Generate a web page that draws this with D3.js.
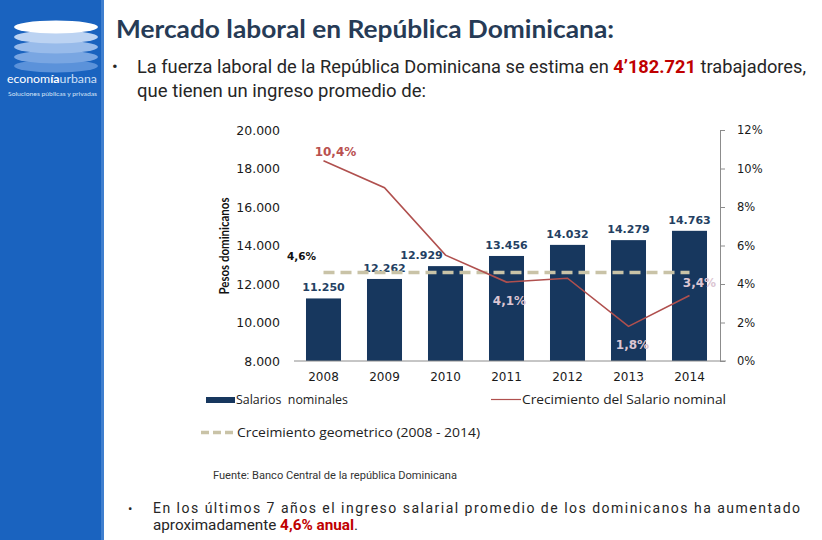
<!DOCTYPE html>
<html><head><meta charset="utf-8">
<script src="https://cdn.jsdelivr.net/npm/d3@7/dist/d3.min.js"></script>
<style>
html,body{margin:0;padding:0;background:#fff;}
svg{display:block;}
</style></head>
<body>
<svg id="c" width="822" height="540"></svg>
<script>
// ---- data ----
const years = ["2008","2009","2010","2011","2012","2013","2014"];
const salaries = [11250, 12262, 12929, 13456, 14032, 14279, 14763];
const growth = [0.104, 0.090, 0.055, 0.041, 0.043, 0.018, 0.034];
const geoGrowth = [0.046, 0.046, 0.046, 0.046, 0.046, 0.046, 0.046];
const leftTicks = [8000, 10000, 12000, 14000, 16000, 18000, 20000];
const rightTicks = [0, 0.02, 0.04, 0.06, 0.08, 0.10, 0.12];
const growthLabelYears = ["2008","2011","2013","2014"];

const svg = d3.select("#c");
const fmtThousands = d3.formatLocale({decimal:",", thousands:".", grouping:[3], currency:["",""]}).format(",.0f");
const fmtPct = d => (d*100).toFixed(1).replace(".", ",") + "%";

// helper: line of segments (separate text elements) fitted to a total width
function segLine(x0, y, width, segs, base, adjust) {
  const els = segs.map(s => svg.append("text").attr("x", x0).attr("y", y)
      .attr("font-family", base.family).attr("font-size", base.size)
      .attr("fill", s.fill || base.fill).attr("font-weight", s.bold ? "bold" : "normal")
      .attr("xml:space","preserve").text(s.t));
  const w = els.map(e => e.node().getComputedTextLength());
  const k = width / d3.sum(w);
  let cx = x0;
  els.forEach((e, i) => {
    e.attr("x", cx).attr("textLength", w[i]*k).attr("lengthAdjust", adjust || "spacingAndGlyphs");
    cx += w[i]*k;
  });
}

// ---- sidebar / logo ----
svg.append("rect").attr("x",0).attr("y",0).attr("width",101).attr("height",540).attr("fill","#1a63bf");
svg.append("rect").attr("x",101).attr("y",0).attr("width",3).attr("height",540).attr("fill","#3f7fcf");
const ell = [
  {cy:66, fill:"#5b92da"},
  {cy:57, fill:"#79a6e2"},
  {cy:47, fill:"#98bbea"},
  {cy:37, fill:"#bcd3f2"},
  {cy:27, fill:"#ffffff"}
];
svg.append("g").selectAll("ellipse").data(ell).join("ellipse")
  .attr("cx",56).attr("cy",d=>d.cy).attr("rx",42).attr("ry",6.5).attr("fill",d=>d.fill);
segLine(7, 83, 90, [{t:"econom"},{t:"ía", bold:true},{t:"urbana", fill:"#cfe0f7"}], {family:"Lato, sans-serif", size:12, fill:"#fff"});
svg.append("text").attr("x",8).attr("y",96).attr("font-family","Lato, sans-serif").attr("font-size",6.5)
  .attr("fill","#d6e4f7").attr("textLength",89).attr("lengthAdjust","spacingAndGlyphs")
  .text("Soluciones públicas y privadas");

// ---- title & text ----
svg.append("text").attr("x",116).attr("y",38).attr("font-family","Lato, sans-serif").attr("font-weight","bold")
  .attr("font-size",25).attr("fill","#263b56").attr("textLength",498).attr("lengthAdjust","spacingAndGlyphs")
  .text("Mercado laboral en República Dominicana:");
const body = {family:"Roboto, sans-serif", size:18, fill:"#262626"};
svg.append("text").attr("x",112).attr("y",72).attr("font-family","Roboto, sans-serif").attr("font-size",17).attr("fill","#262626").text("•");
segLine(137, 73, 669, [
  {t:"La fuerza laboral de la República Dominicana se estima en "},
  {t:"4’182.721", bold:true, fill:"#c00000"},
  {t:" trabajadores,"}], body);
segLine(137, 97, 289, [{t:"que tienen un ingreso promedio de:"}], body);

svg.append("text").attr("x",213).attr("y",479).attr("font-family","Roboto, sans-serif").attr("font-size",11)
  .attr("fill","#333").attr("textLength",244).attr("lengthAdjust","spacingAndGlyphs")
  .text("Fuente: Banco Central de la república Dominicana");

svg.append("text").attr("x",128).attr("y",513).attr("font-family","Roboto, sans-serif").attr("font-size",13).attr("fill","#262626").text("•");
svg.append("text").attr("x",153).attr("y",513).attr("font-family","Roboto, sans-serif").attr("font-size",14)
  .attr("fill","#262626").attr("textLength",647).attr("lengthAdjust","spacing")
  .text("En los últimos 7 años el ingreso salarial promedio de los dominicanos ha aumentado");
segLine(153, 530, 205, [
  {t:"aproximadamente "},
  {t:"4,6% anual", bold:true, fill:"#c00000"},
  {t:"."}], {family:"Roboto, sans-serif", size:14, fill:"#262626"});

// ---- chart ----
const x = d3.scaleBand().domain(years).range([293, 720]).paddingInner(0.426).paddingOuter(0.213);
const yL = d3.scaleLinear().domain([8000, 20000]).range([361, 130]);
const yR = d3.scaleLinear().domain([0, 0.12]).range([361, 130]);
const cx = d => x(d) + x.bandwidth()/2;

const g = svg.append("g");

// bars
g.append("g").selectAll("rect").data(years).join("rect")
  .attr("x", d=>x(d)).attr("width", x.bandwidth())
  .attr("y", (d,i)=>yL(salaries[i])).attr("height",(d,i)=>yL(8000)-yL(salaries[i]))
  .attr("fill","#17375e");

// bottom axis
const ax = g.append("g").attr("transform","translate(0,361)")
  .call(d3.axisBottom(x).tickSize(0).tickPadding(11));
ax.select(".domain").attr("stroke","#8c8c8c").attr("d","M294,0H726");
ax.selectAll("text").attr("font-family","DejaVu Sans, Verdana, sans-serif").attr("font-size",12).attr("fill","#1a1a1a");

// left axis
const al = g.append("g").attr("transform","translate(293,0)")
  .call(d3.axisLeft(yL).tickValues(leftTicks).tickFormat(fmtThousands).tickSize(0).tickPadding(13));
al.select(".domain").remove();
al.selectAll("text").attr("font-family","DejaVu Sans, Verdana, sans-serif").attr("font-size",12.5).attr("fill","#1a1a1a");

// right axis
const ar = g.append("g").attr("transform","translate(720,0)")
  .call(d3.axisRight(yR).tickValues(rightTicks).tickFormat(d=>Math.round(d*100)+"%").tickSizeInner(5).tickSizeOuter(0).tickPadding(12));
ar.select(".domain").attr("stroke","#8c8c8c");
ar.selectAll("line").attr("stroke","#8c8c8c");
ar.selectAll("text").attr("font-family","DejaVu Sans, Verdana, sans-serif").attr("font-size",11.5).attr("fill","#1a1a1a");

// y title
svg.append("text").attr("transform","translate(229,246) rotate(-90)").attr("text-anchor","middle")
  .attr("font-family","Lato, sans-serif").attr("font-weight","bold").attr("font-size",14).attr("fill","#111")
  .attr("textLength",97).attr("lengthAdjust","spacingAndGlyphs").text("Pesos dominicanos");

// bar labels
g.append("g").selectAll("text").data(years).join("text")
  .attr("x", d=>cx(d) + (d==="2010" ? -24 : 0))
  .attr("y", (d,i)=>yL(salaries[i]) - 7)
  .attr("text-anchor","middle").attr("font-family","DejaVu Sans, Verdana, sans-serif")
  .attr("font-weight","bold").attr("font-size",11).attr("fill","#243f62")
  .text((d,i)=>fmtThousands(salaries[i]));

// geometric growth dashed
g.append("path").datum(years)
  .attr("d", d3.line().x(d=>cx(d)).y((d,i)=>yR(geoGrowth[i])))
  .attr("fill","none").attr("stroke","#c9c3a7").attr("stroke-width",3.5).attr("stroke-dasharray","11,6");

// growth line
g.append("path").datum(years)
  .attr("d", d3.line().x(d=>cx(d)).y((d,i)=>yR(growth[i])))
  .attr("fill","none").attr("stroke","#b0504e").attr("stroke-width",1.6);

// growth labels
const gOff = {"2008":[12,-5,"#b9504f"], "2011":[3,23,"#dcc6d3"], "2013":[4,23,"#dcc6d3"], "2014":[10,-9,"#dcc6d3"]};
g.append("g").selectAll("text").data(growthLabelYears).join("text")
  .attr("x", d=>cx(d)+gOff[d][0])
  .attr("y", d=>yR(growth[years.indexOf(d)])+gOff[d][1])
  .attr("text-anchor","middle").attr("font-family","DejaVu Sans, Verdana, sans-serif")
  .attr("font-weight","bold").attr("font-size",12).attr("fill", d=>gOff[d][2])
  .text(d=>fmtPct(growth[years.indexOf(d)]));
g.append("text").attr("x", cx(years[0]) - 22).attr("y", yR(geoGrowth[0]) - 12)
  .attr("text-anchor","middle").attr("font-family","DejaVu Sans, Verdana, sans-serif")
  .attr("font-weight","bold").attr("font-size",10.5).attr("fill","#111").text(fmtPct(geoGrowth[0]));

// legend
const lf = "Open Sans, sans-serif";
svg.append("rect").attr("x",206).attr("y",397).attr("width",29).attr("height",6).attr("fill","#17375e");
svg.append("text").attr("x",236).attr("y",404).attr("font-family",lf).attr("font-size",12.5).attr("fill","#222")
  .attr("textLength",112).attr("lengthAdjust","spacingAndGlyphs").attr("xml:space","preserve").text("Salarios  nominales");
svg.append("line").attr("x1",491).attr("x2",521).attr("y1",399.5).attr("y2",399.5).attr("stroke","#b0504e").attr("stroke-width",1.2);
svg.append("text").attr("x",522).attr("y",404).attr("font-family",lf).attr("font-size",12.5).attr("fill","#222")
  .attr("textLength",204).attr("lengthAdjust","spacingAndGlyphs").text("Crecimiento del Salario nominal");
svg.append("line").attr("x1",201).attr("x2",236).attr("y1",432.5).attr("y2",432.5).attr("stroke","#c9c3a7")
  .attr("stroke-width",3.5).attr("stroke-dasharray","8,4");
svg.append("text").attr("x",237).attr("y",437).attr("font-family",lf).attr("font-size",12.5).attr("fill","#222")
  .attr("textLength",243).attr("lengthAdjust","spacingAndGlyphs").text("Crceimiento geometrico (2008 - 2014)");
</script>
</body></html>
